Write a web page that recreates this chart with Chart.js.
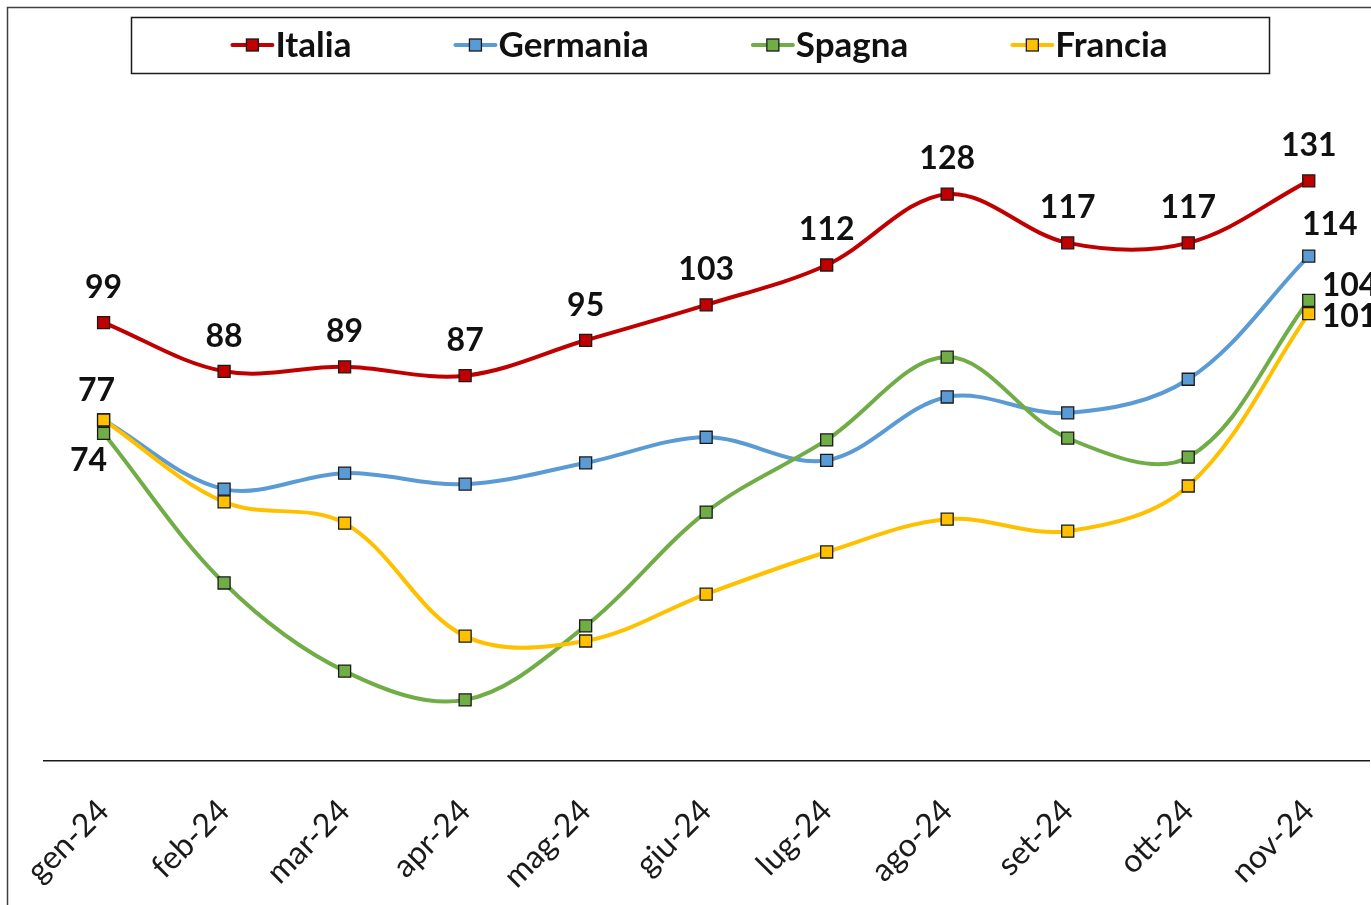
<!DOCTYPE html>
<html lang="it">
<head>
  <meta charset="UTF-8" />
  <title>Italia, Germania, Spagna, Francia</title>
  <script src="https://cdn.jsdelivr.net/npm/chart.js"></script>
  <style>
    html, body { margin: 0; padding: 0; background: #fff; }
    #wrap { width: 1371px; height: 905px; position: relative; }
  </style>
</head>
<body>
  <div id="wrap"><canvas id="chart"></canvas></div>

  <script>
    // values
    const months = ['gen-24', 'feb-24', 'mar-24', 'apr-24', 'mag-24', 'giu-24', 'lug-24', 'ago-24', 'set-24', 'ott-24', 'nov-24'];
    const italia   = [99, 88, 89, 87, 95, 103, 112, 128, 117, 117, 131];
    const germania = [77, 61.4, 65.0, 62.5, 67.3, 73.1, 67.9, 82.2, 78.6, 86.2, 114];
    const spagna   = [74, 40.2, 20.3, 13.8, 30.5, 56.2, 72.5, 91.2, 72.9, 68.6, 104];
    const francia  = [77, 58.5, 53.7, 28.2, 27.1, 37.7, 47.2, 54.6, 51.9, 62.1, 101];

    const FONT = 'Lato, "Liberation Sans", sans-serif';

    // which points get a value label, and where it sits relative to the marker
    const allAbove = months.map((m, i) => ({ at: i, dx: 0, dy: -35, align: 'center' }));

    function series(label, data, color, order, valueLabels) {
      return {
        label: label,
        data: data,
        borderColor: color,
        backgroundColor: color,
        borderWidth: 4,
        tension: 0.35,
        pointStyle: 'rect',
        pointRadius: 8.5,
        pointBackgroundColor: color,
        pointBorderColor: '#1a1a1a',
        pointBorderWidth: 1.3,
        order: order,
        clip: false,
        valueLabels: valueLabels
      };
    }

    // outer chart frame (left and top edges are the visible ones)
    const frame = {
      id: 'frame',
      beforeDraw(chart) {
        const ctx = chart.ctx;
        ctx.save();
        ctx.strokeStyle = '#404040';
        ctx.lineWidth = 1.5;
        ctx.beginPath();
        ctx.moveTo(7.5, chart.height);
        ctx.lineTo(7.5, 7.5);
        ctx.lineTo(chart.width, 7.5);
        ctx.stroke();
        ctx.restore();
      }
    };

    // legend in a bordered box, line + square marker per series
    const boxLegend = {
      id: 'boxLegend',
      afterDraw(chart) {
        const ctx = chart.ctx;
        const left = 131, top = 17, right = 1269, bottom = 73;
        const midY = (top + bottom) / 2;
        ctx.save();
        ctx.strokeStyle = '#1a1a1a';
        ctx.lineWidth = 1.5;
        ctx.strokeRect(left + 0.5, top + 0.5, right - left, bottom - top);

        ctx.font = 'bold 35px ' + FONT;
        ctx.textBaseline = 'middle';
        ctx.textAlign = 'left';
        const lineLen = 40, textGap = 3, itemGap = 104;
        const items = chart.data.datasets.map(ds => ({ ds, w: lineLen + textGap + ctx.measureText(ds.label).width }));
        const total = items.reduce((s, it) => s + it.w, 0) + itemGap * (items.length - 1);
        let x = (left + right) / 2 - total / 2;

        items.forEach(it => {
          const ds = it.ds;
          ctx.strokeStyle = ds.borderColor;
          ctx.lineWidth = 4;
          ctx.lineCap = 'round';
          ctx.beginPath();
          ctx.moveTo(x, midY);
          ctx.lineTo(x + lineLen, midY);
          ctx.stroke();
          ctx.fillStyle = ds.borderColor;
          ctx.fillRect(x + lineLen / 2 - 6, midY - 6, 12, 12);
          ctx.strokeStyle = '#1a1a1a';
          ctx.lineWidth = 1.3;
          ctx.strokeRect(x + lineLen / 2 - 6, midY - 6, 12, 12);
          ctx.fillStyle = '#111';
          ctx.fillText(ds.label, x + lineLen + textGap, midY + 1);
          x += it.w + itemGap;
        });
        ctx.restore();
      }
    };

    // value labels drawn next to the chosen markers
    const valueLabels = {
      id: 'valueLabels',
      afterDatasetsDraw(chart) {
        const ctx = chart.ctx;
        ctx.save();
        ctx.font = 'bold 32px ' + FONT;
        ctx.fillStyle = '#111';
        ctx.textBaseline = 'middle';
        chart.data.datasets.forEach((ds, i) => {
          const meta = chart.getDatasetMeta(i);
          (ds.valueLabels || []).forEach(l => {
            const pt = meta.data[l.at];
            ctx.textAlign = l.align;
            ctx.fillText(Math.round(ds.data[l.at]), pt.x + l.dx, pt.y + l.dy);
          });
        });
        ctx.restore();
      }
    };

    new Chart(document.getElementById('chart'), {
      type: 'line',
      data: {
        labels: months,
        datasets: [
          series('Italia', italia, '#C00000', 3, allAbove),
          series('Germania', germania, '#5B9BD5', 2, [
            { at: 0, dx: -7, dy: -29, align: 'center' },
            { at: 10, dx: 21, dy: -31, align: 'center' }
          ]),
          series('Spagna', spagna, '#70AD47', 1, [
            { at: 0, dx: -15, dy: 27, align: 'center' },
            { at: 10, dx: 13, dy: -15, align: 'left' }
          ]),
          series('Francia', francia, '#FFC000', 0, [
            { at: 10, dx: 13, dy: 3, align: 'left' }
          ])
        ]
      },
      options: {
        responsive: true,
        maintainAspectRatio: false,
        animation: false,
        events: [],
        layout: {
          autoPadding: false,
          padding: { top: 141, left: 39, right: 2, bottom: 0 }
        },
        plugins: {
          legend: { display: false },
          tooltip: { enabled: false }
        },
        scales: {
          x: {
            offset: true,
            grid: { display: false, drawTicks: false },
            border: { display: true, color: '#1a1a1a', width: 1.5 },
            ticks: {
              color: '#1a1a1a',
              font: { family: FONT, size: 32 },
              minRotation: 45,
              maxRotation: 45,
              padding: 31
            },
            afterFit(scale) {
              scale.height = 144;
            }
          },
          y: {
            display: false,
            min: 0,
            max: 140
          }
        }
      },
      plugins: [frame, boxLegend, valueLabels]
    });
  </script>
</body>
</html>
